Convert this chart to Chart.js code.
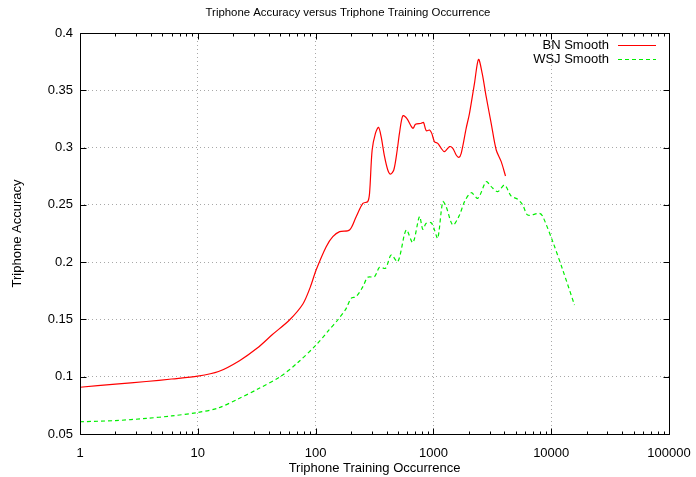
<!DOCTYPE html>
<html>
<head>
<meta charset="utf-8">
<script src="https://cdn.jsdelivr.net/npm/chart.js@4.4.0/dist/chart.umd.min.js"></script>
<style>
html,body{margin:0;padding:0;background:#fff;}
</style>
</head>
<body>
<canvas id="chart" width="696" height="477"></canvas>
<script>
var chartTitle = 'Triphone Accuracy versus Triphone Training Occurrence';
var xTitle = 'Triphone Training Occurrence';
var yTitle = 'Triphone Accuracy';
var seriesNames = ['BN Smooth', 'WSJ Smooth'];
var xTicks = [1, 10, 100, 1000, 10000, 100000];

// BN smoothed accuracy
var bnCount = [1, 2, 3.65, 6, 10, 15, 22.6, 32, 43, 60, 78, 90, 101, 123, 140, 160, 194, 221, 252, 277, 287,
  302, 322, 342, 360, 385, 410, 432, 461, 493, 515, 550, 594, 669, 705, 788, 824, 869, 927, 969,
  1021, 1089, 1164, 1242, 1371, 1462, 1561, 1643, 1722, 1897, 2025, 2232, 2414, 2595, 2806, 3094,
  3414, 3764, 4093];
var bnAcc = [0.0908, 0.0935, 0.0958, 0.0980, 0.1005, 0.1045, 0.1140, 0.1250, 0.1368, 0.1495, 0.1635, 0.1780,
  0.1931, 0.2135, 0.2222, 0.2266, 0.2280, 0.2397, 0.2513, 0.2528, 0.2600,
  0.2979, 0.3124, 0.3177, 0.3095, 0.2920, 0.2804, 0.2769, 0.2804, 0.2979, 0.3124, 0.3278, 0.3255,
  0.3168, 0.3203, 0.3212, 0.3220, 0.3147, 0.3153, 0.3124,
  0.3051, 0.3037, 0.2994, 0.2964, 0.3008, 0.2994, 0.2935, 0.2915, 0.2950, 0.3168, 0.3299, 0.3561,
  0.3770, 0.3648, 0.3444, 0.3212, 0.2979, 0.2877, 0.2752];

// WSJ smoothed accuracy
var wsjCount = [1, 2, 3.65, 6, 10, 15, 22.6, 32, 50, 70, 101, 130, 154, 182, 200, 221, 252, 277, 316,
  349, 392, 438, 499, 588, 669, 762, 813, 869, 958, 1021, 1089, 1202, 1283, 1462, 1666, 1837, 2094,
  2384, 2806, 3094, 3522, 4014, 4575, 5204, 5736, 6326, 7961, 8494, 10320, 12540, 15770];
var wsjAcc = [0.0607, 0.0617, 0.0636, 0.0658, 0.0688, 0.0728, 0.0812, 0.0890, 0.1000, 0.1120, 0.1277,
  0.1408, 0.1495, 0.1597, 0.1684, 0.1699, 0.1786, 0.1868, 0.1873,
  0.1955, 0.1946, 0.2062, 0.2004, 0.2281, 0.2170, 0.2397, 0.2287, 0.2339, 0.2344, 0.2281, 0.2208,
  0.2528, 0.2484, 0.2324, 0.2411, 0.2528, 0.2606,
  0.2557, 0.2702, 0.2659, 0.2615, 0.2673, 0.2577, 0.2548, 0.2499, 0.2411, 0.2426, 0.2397, 0.2178,
  0.1931, 0.1626];

function pts(xs, ys) {
  return xs.map(function(x, i){ return {x: x, y: ys[i]}; });
}

var FONT = '"Liberation Sans", Arial, Helvetica, sans-serif';

// gnuplot style frame: box, inward ticks, title and key
var frame = {
  id: 'frame',
  afterDraw: function(chart){
    var ctx = chart.ctx, a = chart.chartArea;
    var xs = chart.scales.x, ys = chart.scales.y;
    var L = Math.round(a.left) + 0.5, R = Math.round(a.right) + 0.5;
    var T = Math.round(a.top) + 0.5, B = Math.round(a.bottom) + 0.5;
    ctx.save();
    ctx.strokeStyle = '#000';
    ctx.lineWidth = 1;
    ctx.setLineDash([]);
    ctx.beginPath();
    ctx.rect(L, T, R - L, B - T);
    // x ticks, major and minor
    for (var d = 0; d < xTicks.length; d++) {
      var p = Math.round(xs.getPixelForValue(xTicks[d])) + 0.5;
      ctx.moveTo(p, B); ctx.lineTo(p, B - 6);
      ctx.moveTo(p, T); ctx.lineTo(p, T + 6);
      if (d < xTicks.length - 1) {
        for (var m = 2; m < 10; m++) {
          var q = Math.round(xs.getPixelForValue(xTicks[d] * m)) + 0.5;
          ctx.moveTo(q, B); ctx.lineTo(q, B - 3);
          ctx.moveTo(q, T); ctx.lineTo(q, T + 3);
        }
      }
    }
    ys.ticks.forEach(function(t){
      var p = Math.round(ys.getPixelForValue(t.value)) + 0.5;
      ctx.moveTo(L, p); ctx.lineTo(L + 6, p);
      ctx.moveTo(R, p); ctx.lineTo(R - 6, p);
    });
    ctx.stroke();

    ctx.fillStyle = '#000';
    ctx.font = '11.4px ' + FONT;
    ctx.textAlign = 'center';
    ctx.textBaseline = 'middle';
    ctx.fillText(chartTitle, chart.width / 2, 13);

    // key in the upper right corner
    ctx.font = '13px ' + FONT;
    ctx.textAlign = 'right';
    chart.data.datasets.forEach(function(ds, i){
      var y = 45 + i * 14;
      ctx.fillStyle = '#000';
      ctx.fillText(ds.label, 609, y);
      ctx.strokeStyle = ds.borderColor;
      ctx.lineWidth = ds.borderWidth;
      ctx.setLineDash(ds.borderDash || []);
      ctx.beginPath();
      ctx.moveTo(618, y + 0.5);
      ctx.lineTo(656, y + 0.5);
      ctx.stroke();
    });
    ctx.restore();
  }
};

new Chart(document.getElementById('chart'), {
  type: 'line',
  data: {
    datasets: [
      {
        label: seriesNames[0],
        data: pts(bnCount, bnAcc),
        borderColor: '#ff0000',
        borderWidth: 1.2,
        pointRadius: 0,
        tension: 0.3,
        fill: false
      },
      {
        label: seriesNames[1],
        data: pts(wsjCount, wsjAcc),
        borderColor: '#00ee00',
        borderWidth: 1.2,
        borderDash: [4, 3],
        pointRadius: 0,
        tension: 0.3,
        fill: false
      }
    ]
  },
  options: {
    responsive: false,
    animation: false,
    layout: {padding: {top: 33, right: 27, left: 0, bottom: 0}},
    plugins: {
      legend: {display: false},
      tooltip: {enabled: false}
    },
    scales: {
      x: {
        type: 'logarithmic',
        min: 1,
        max: 100000,
        afterBuildTicks: function(s){
          s.ticks = xTicks.map(function(v){ return {value: v}; });
        },
        afterFit: function(s){
          s.height = 43;
          s.paddingLeft = 0;
          s.paddingRight = 0;
        },
        ticks: {
          color: '#000',
          padding: 12,
          maxRotation: 0,
          autoSkip: false,
          font: {family: FONT, size: 13},
          callback: function(v){ return String(v); }
        },
        grid: {color: '#a8a8a8', drawTicks: false},
        border: {display: false, dash: [1, 3]},
        title: {
          display: true,
          text: xTitle,
          color: '#000',
          font: {family: FONT, size: 13},
          padding: {top: 0, bottom: 1}
        }
      },
      y: {
        min: 0.05,
        max: 0.4,
        afterFit: function(s){ s.width = 80; },
        ticks: {
          stepSize: 0.05,
          color: '#000',
          padding: 7,
          font: {family: FONT, size: 13},
          callback: function(v){ return String(+v.toFixed(2)); }
        },
        grid: {color: '#a8a8a8', drawTicks: false},
        border: {display: false, dash: [1, 3]},
        title: {
          display: true,
          text: yTitle,
          color: '#000',
          font: {family: FONT, size: 13},
          padding: {top: 10, bottom: 0}
        }
      }
    }
  },
  plugins: [frame]
});
</script>
</body>
</html>
